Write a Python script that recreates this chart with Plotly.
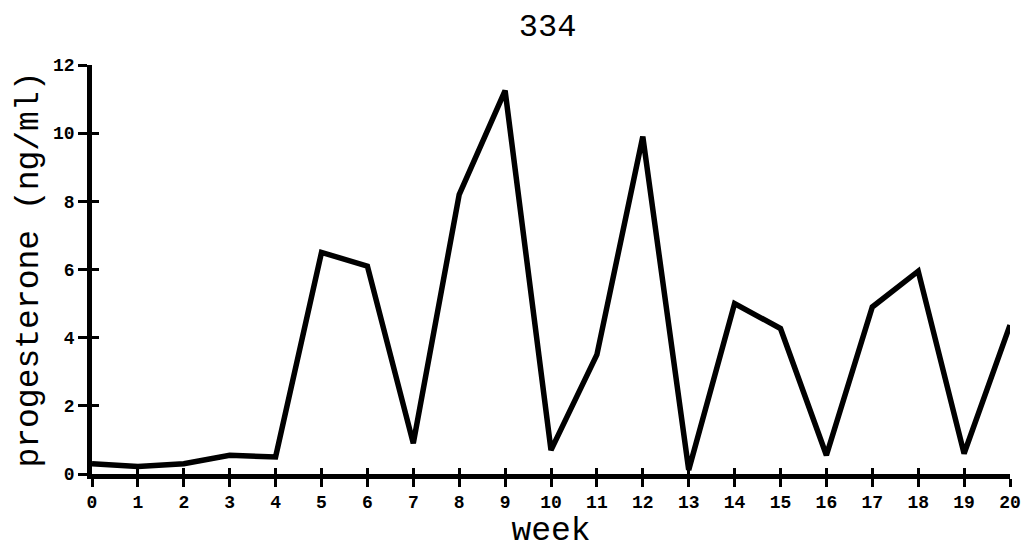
import plotly.graph_objects as go

weeks = list(range(0, 21))
progesterone = [0.3, 0.22, 0.3, 0.55, 0.5, 6.5, 6.1, 0.9, 8.2, 11.25, 0.7, 3.5,
                9.9, 0.12, 5.0, 4.27, 0.55, 4.9, 5.95, 0.6, 4.37]
x_ticks = list(range(0, 21))
y_ticks = [0, 2, 4, 6, 8, 10, 12]

title_text = "334"
x_title = "week"
y_title = "progesterone (ng/ml)"

MONO = "Courier New, Liberation Mono, monospace"

fig = go.Figure()
fig.add_trace(go.Scatter(x=weeks, y=progesterone, mode="lines",
                         line=dict(color="black", width=5.5),
                         hoverinfo="skip", showlegend=False, cliponaxis=False))
# invisible trace to carry the inner half of the crossing ticks
fig.add_trace(go.Scatter(x=[weeks[0]], y=[progesterone[0]], xaxis="x2", yaxis="y2",
                         mode="markers", marker=dict(opacity=0), showlegend=False,
                         hoverinfo="skip"))

fig.update_layout(
    width=1022, height=543,
    margin=dict(l=84, r=20, t=57, b=77, autoexpand=False),
    paper_bgcolor="white", plot_bgcolor="white",
    title=dict(text=title_text, x=0.528, xanchor="center", y=1 - 17 / 543, yanchor="middle",
               font=dict(family=MONO, size=32, color="black")),
    xaxis=dict(range=[0, 20], tickvals=x_ticks, ticktext=[str(t) for t in x_ticks],
               showgrid=False, zeroline=False, showline=True, linecolor="black",
               linewidth=4.5, ticks="outside", ticklen=8, tickwidth=3, tickcolor="black",
               tickfont=dict(family=MONO, size=18, color="black", weight="bold"),
               title=dict(text=x_title, standoff=5,
                          font=dict(family=MONO, size=33, color="black")),
               automargin=False),
    yaxis=dict(range=[0, 12], tickvals=y_ticks, showgrid=False, zeroline=False,
               showline=True, linecolor="black", linewidth=4.5, ticks="outside",
               ticklen=9, tickwidth=3, tickcolor="black",
               tickfont=dict(family=MONO, size=18, color="black", weight="bold"),
               title=dict(text=y_title, standoff=6,
                          font=dict(family=MONO, size=33, color="black")),
               automargin=False),
    xaxis2=dict(range=[0, 20], overlaying="x", anchor="y2", tickvals=x_ticks,
                showticklabels=False, showgrid=False, zeroline=False, showline=False,
                ticks="inside", ticklen=6, tickwidth=3, tickcolor="black", side="bottom"),
    yaxis2=dict(range=[0, 12], overlaying="y", anchor="x2", tickvals=y_ticks,
                showticklabels=False, showgrid=False, zeroline=False, showline=False,
                ticks="inside", ticklen=7, tickwidth=3, tickcolor="black", side="left"),
)

fig.write_html("out.html")
